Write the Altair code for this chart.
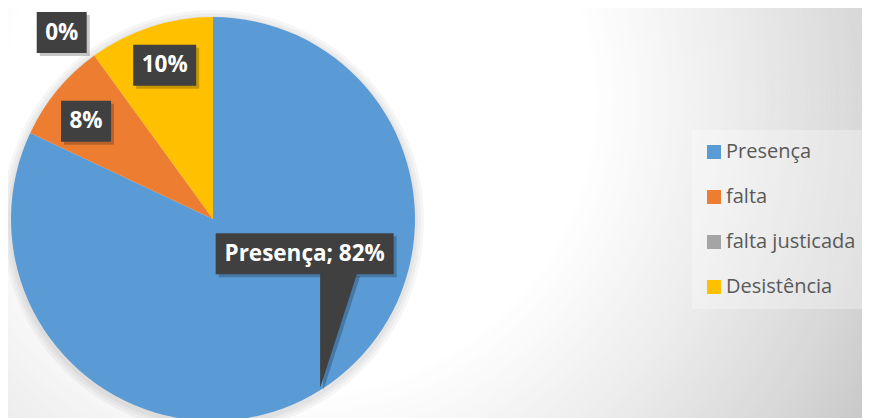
import altair as alt
import numpy as np
import pandas as pd

# ---- data ----
categories = ["Presença", "falta", "falta justicada", "Desistência"]
values = [82, 8, 0, 10]
colors = ["#5B9BD5", "#ED7D31", "#A5A5A5", "#FFC000"]
label_texts = ["Presença; 82%", "8%", "0%", "10%"]

# ---- layout / style ----
W, H = 854, 410
CX, CY, R = 205, 211, 202
FONT = "Open Sans"
label_radius = [0.99, 0.79, 1.19, 0.79]
label_nudge = [(-15.5, -134), (-4, 4), (-10, 8), (1, -2)]
box_w = [178, 50, 50, 63]
BOX_H = 41
POINTER_W = 37

df = pd.DataFrame({"cat": categories, "value": values, "idx": range(len(categories))})

tot = float(sum(values))
cum = np.cumsum([0] + values[:-1])
mid = (cum + np.array(values) / 2.0) / tot * 2 * np.pi
ax = CX + np.array(label_radius) * R * np.sin(mid)
ay = CY - np.array(label_radius) * R * np.cos(mid)
lx = ax + np.array([n[0] for n in label_nudge])
ly = ay + np.array([n[1] for n in label_nudge])
lab = pd.DataFrame({
    "text": label_texts,
    "x": lx, "y": ly,
    "x0": lx - np.array(box_w) / 2, "x1": lx + np.array(box_w) / 2,
    "y0": ly - BOX_H / 2, "y1": ly + BOX_H / 2,
})
lab["sx0"] = lab.x0 + 3
lab["sx1"] = lab.x1 + 3
lab["sy0"] = lab.y0 + 3
lab["sy1"] = lab.y1 + 3

tipx, tipy = ax[0], ay[0]
ybot = ly[0] + BOX_H / 2
ptr = pd.DataFrame({"py": [ybot - 1, tipy], "px": [tipx, tipx], "px2": [tipx + POINTER_W, tipx]})
ptr_sh = ptr.assign(px=ptr.px + 3, px2=ptr.px2 + 3, py=ptr.py + 3)

# ---- background: radial gradient drawn as concentric annuli ----
GX, GY = 292, 92
g_r = [0, 290, 437, 579, 653, 760]
g_v = [255, 255, 236, 214, 199, 188]
STEP = 5.0
ring_r = np.arange(760, 280, -STEP)
ring_v = np.interp(ring_r - STEP / 2, g_r, g_v).round().astype(int)
rings = pd.DataFrame({
    "r": np.append(ring_r, 285.0),
    "r0": np.append(ring_r - STEP - 0.6, 0.0),
    "c": ["#%02x%02x%02x" % (v, v, v) for v in ring_v] + ["#ffffff"],
})
bg = alt.Chart(rings).mark_arc(theta=0, theta2=2 * np.pi, clip=True).encode(
    radius=alt.Radius("r:Q", scale=None),
    radius2="r0:Q",
    color=alt.Color("c:N", scale=None),
    x=alt.value(GX), y=alt.value(GY),
)

one = pd.DataFrame({"k": [0]})
halo = alt.layer(*[
    alt.Chart(one).mark_arc(theta=0, theta2=2 * np.pi, outerRadius=R + d, fill="black", opacity=0.035).encode(
        x=alt.value(CX), y=alt.value(CY + 2)
    )
    for d in (9, 6, 3)
])

pie = alt.Chart(df).mark_arc(outerRadius=R).encode(
    theta=alt.Theta("value:Q", stack=True),
    order=alt.Order("idx:Q"),
    color=alt.Color(
        "cat:N",
        scale=alt.Scale(domain=categories, range=colors),
        legend=alt.Legend(
            orient="none", legendX=684, legendY=122, title=None,
            symbolType="square", symbolSize=196, symbolStrokeWidth=0,
            labelFont=FONT, labelFontSize=20, labelColor="#595959",
            labelOffset=2, rowPadding=25, padding=12,
            fillColor="rgba(255,255,255,0.3)", labelLimit=400,
        ),
    ),
    x=alt.value(CX), y=alt.value(CY),
)

shadow = alt.Chart(lab).mark_rect(color="black", opacity=0.22).encode(
    x=alt.X("sx0:Q", scale=None), x2="sx1:Q",
    y=alt.Y("sy0:Q", scale=None), y2="sy1:Q",
)
ptr_shadow = alt.Chart(ptr_sh).mark_area(orient="horizontal", color="black", opacity=0.22).encode(
    y=alt.Y("py:Q", scale=None), x=alt.X("px:Q", scale=None), x2="px2:Q"
)
boxes = alt.Chart(lab).mark_rect(color="#404040").encode(
    x=alt.X("x0:Q", scale=None), x2="x1:Q",
    y=alt.Y("y0:Q", scale=None), y2="y1:Q",
)
pointer = alt.Chart(ptr).mark_area(orient="horizontal", color="#404040").encode(
    y=alt.Y("py:Q", scale=None), x=alt.X("px:Q", scale=None), x2="px2:Q"
)
texts = alt.Chart(lab).mark_text(
    font=FONT, fontWeight="bold", fontSize=22.5, color="white", align="center", baseline="middle"
).encode(
    x=alt.X("x:Q", scale=None), y=alt.Y("y:Q", scale=None), text="text:N"
)

chart = alt.layer(bg, halo, pie, ptr_shadow, shadow, pointer, boxes, texts).properties(
    width=W, height=H, padding=0, autosize=alt.AutoSizeParams(type="none")
).configure_view(stroke=None)

chart.save("out.html", embed_options={"renderer": "svg", "actions": False})
